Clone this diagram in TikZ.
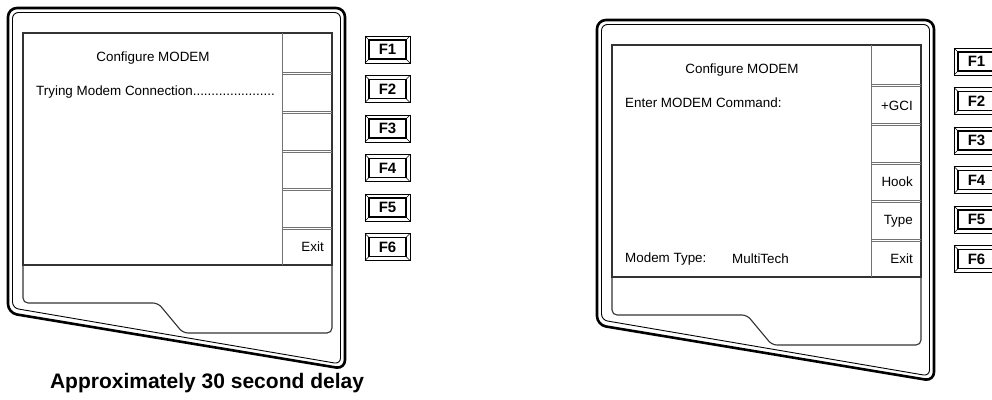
\documentclass[tikz,border=0pt]{standalone}
\usepackage{fontspec}
\setmainfont{Liberation Sans}
\begin{document}
\begin{tikzpicture}[x=1pt,y=-1pt,
    frameout/.style={line width=2.6pt, rounded corners=9pt},
    framein/.style={line width=0.9pt, rounded corners=6pt},
    screen/.style={line width=1.1pt, draw=black!80},
    sep/.style={line width=0.7pt, draw=black!55},
    keyout/.style={line width=0.6pt},
    keyin/.style={line width=1.3pt},
    lbl/.style={inner sep=0pt, font=\fontsize{13.4}{16}\selectfont},
    fkey/.style={inner sep=0pt, font=\fontsize{15}{18}\selectfont\bfseries}]
\useasboundingbox (0,0) rectangle (992,399);
% beide Geraete: links und rechts (verschoben)
\foreach \p/\dx/\dy in {a/0/0, b/589/12} {
  \begin{scope}[shift={(\dx,\dy)}]
    % Gehaeuse:
    \draw[frameout] (8,313) -- (8,8) -- (345,8) -- (345,369) -- cycle; % aussen
    \draw[framein] (12.5,308) -- (12.5,12.5) -- (340.5,12.5) -- (340.5,364) -- cycle; % innen
    % Bildschirm:
    \draw[screen] (23,265) -- (23,33) -- (332,33) -- (332,265) -- cycle;
    \draw[screen, rounded corners=5pt] (23,265) -- (23,303) -- (158,303) -- (183,333) -- (332,333) -- (332,265);
    \draw[sep] (282,33) -- (282,265); % Softkey-Spalte
    \foreach \y in {73,112,151,189,228} {
      \draw[sep] (282,\y-1) -- (332,\y-1);
      \draw[sep] (282,\y+1.5) -- (332,\y+1.5);
    }
    % Funktionstasten:
    \foreach \i in {1,...,6} {
      \pgfmathsetmacro\t{36+39.5*(\i-1)}
      \draw[keyout] (365,\t) rectangle (410,\t+27);
      \draw[keyin] (369,\t+4) rectangle (406,\t+23);
      \draw[keyout] (365,\t) -- (369,\t+4);
      \draw[keyout] (410,\t) -- (406,\t+4);
      \draw[keyout] (365,\t+27) -- (369,\t+23);
      \draw[keyout] (410,\t+27) -- (406,\t+23);
      \node[fkey] (f\p\i) at (387.5,\t+13.5) {F\i};
    }
  \end{scope}
}
% linker Bildschirm:
\node[lbl] (titlea) at (153,58) {Configure MODEM};
\node[lbl, anchor=west] (msga) at (36,92) {Trying Modem Connection......................};
\node[lbl, anchor=east] (exita) at (324,247) {Exit};
\node[inner sep=0pt, font=\fontsize{21}{25}\selectfont\bfseries] (delay) at (207,383) {Approximately 30 second delay};
% rechter Bildschirm:
\node[lbl] (titleb) at (742,70) {Configure MODEM};
\node[lbl, anchor=west] (cmdb) at (625,103) {Enter MODEM Command:};
\node[lbl, anchor=east] (gcib) at (913,106) {+GCI};
\node[lbl, anchor=east] (hookb) at (913,182) {Hook};
\node[lbl, anchor=east] (typeb) at (913,221) {Type};
\node[lbl, anchor=east] (exitb) at (913,259) {Exit};
\node[lbl, anchor=west] (mtypeb) at (625,259) {Modem Type:};
\node[lbl, anchor=west] (mtechb) at (732,259) {MultiTech};
\end{tikzpicture}
\end{document}
